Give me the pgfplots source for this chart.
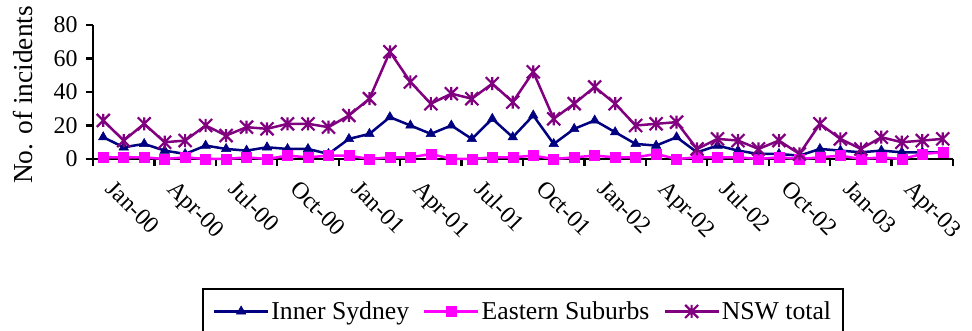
\documentclass[border=0pt]{standalone}
\usepackage{pgfplots}
\pgfplotsset{compat=1.18}
\usepackage{fontspec}
\setmainfont{Liberation Serif}
\definecolor{navyc}{RGB}{0,0,128}
\definecolor{magc}{RGB}{255,0,255}
\definecolor{purpc}{RGB}{128,0,128}
\pgfdeclareplotmark{xstar}{%
  \pgfpathmoveto{\pgfqpoint{-\pgfplotmarksize}{-\pgfplotmarksize}}%
  \pgfpathlineto{\pgfqpoint{\pgfplotmarksize}{\pgfplotmarksize}}%
  \pgfpathmoveto{\pgfqpoint{-\pgfplotmarksize}{\pgfplotmarksize}}%
  \pgfpathlineto{\pgfqpoint{\pgfplotmarksize}{-\pgfplotmarksize}}%
  \pgfpathmoveto{\pgfqpoint{0pt}{-\pgfplotmarksize}}%
  \pgfpathlineto{\pgfqpoint{0pt}{\pgfplotmarksize}}%
  \pgfusepathqstroke}
\pgfplotstableread{
m IS ES NSW
1 13 1 23
2 7 1 11
3 9 1 21
4 5 0 10
5 3 1 11
6 8 0 20
7 6 0 14
8 5 1 19
9 7 0 18
10 6 2 21
11 6 1 21
12 3 2 19
13 12 2 26
14 15 0 36
15 25 1 64
16 20 1 46
17 15 3 33
18 20 0 39
19 12 0 36
20 24 1 45
21 13 1 34
22 26 2 52
23 9 0 24
24 18 1 33
25 23 2 43
26 16 1 33
27 9 1 20
28 8 3 21
29 13 0 22
30 4 1 6
31 8 1 12
32 5 1 11
33 3 0 6
34 3 1 11
35 2 0 3
36 6 1 21
37 5 2 12
38 4 0 6
39 5 1 13
40 4 0 10
41 4 3 11
42 4 4 12
}\datatable
\begin{document}
\begin{tikzpicture}
\begin{axis}[
  name=ax,
  scale only axis,
  width=860bp, height=134bp,
  xmin=0.5, xmax=42.5,
  ymin=0, ymax=80,
  clip=false,
  axis lines=left,
  axis line style={-, line width=2.2bp, black},
  tick align=outside,
  major tick length=7bp,
  tick style={line width=2.2bp, black},
  ytick={0,20,40,60,80},
  xtick={0.5,3.5,...,42.5},
  xticklabels={},
  extra x ticks={1,4,...,40},
  extra x tick labels={Jan-00,Apr-00,Jul-00,Oct-00,Jan-01,Apr-01,Jul-01,Oct-01,Jan-02,Apr-02,Jul-02,Oct-02,Jan-03,Apr-03},
  extra x tick style={major tick length=0pt,
    xticklabel style={xshift=13bp, yshift=-15bp, rotate=-45, anchor=north west}},
  /pgf/number format/assume math mode=true,
  ticklabel style={font=\fontsize{24}{28}\selectfont},
  yticklabel style={xshift=-5bp},
  ylabel={No. of incidents},
  every axis y label/.style={at={(axis description cs:-0.0698,0.478)}, rotate=90, anchor=base, font=\fontsize{27.5}{32}\selectfont},
  legend columns=3,
  legend style={at={(axis description cs:0.5,-0.963)}, anchor=north, draw=black, line width=1.5bp,
    font=\fontsize{25.8}{30}\selectfont, inner xsep=10bp, inner ysep=11bp,
    /tikz/every even column/.append style={column sep=12bp}},
  legend image code/.code={\draw[mark repeat=2,mark phase=2,#1] plot coordinates {(0bp,0bp) (27bp,0bp) (54bp,0bp)};},
]
\addplot[color=navyc, line width=2.5bp, mark=triangle*, mark size=5.5bp, mark options={solid,line width=0.5bp}] table[x=m,y=IS] {\datatable};
\addlegendentry{Inner Sydney}
\addplot[color=magc, line width=2.5bp, mark=square*, mark size=5bp, mark options={solid,line width=0.5bp}] table[x=m,y=ES] {\datatable};
\addlegendentry{Eastern Suburbs}
\addplot[color=purpc, line width=2.5bp, mark=xstar, mark size=6.5bp, mark options={solid,line width=2.2bp}] table[x=m,y=NSW] {\datatable};
\addlegendentry{NSW total}
\end{axis}
\pgfresetboundingbox
\path ([xshift=-93bp,yshift=-172bp]ax.south west) rectangle ([xshift=19bp,yshift=25bp]ax.north east);
\end{tikzpicture}
\end{document}
